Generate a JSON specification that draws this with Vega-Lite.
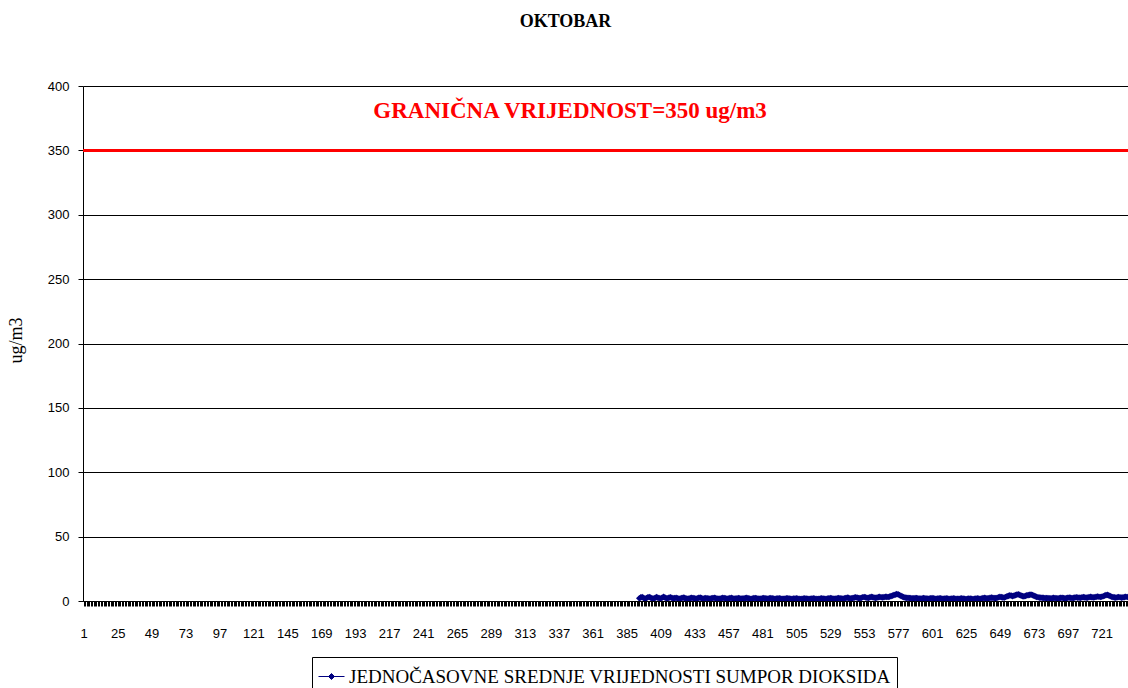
{
"$schema": "https://vega.github.io/schema/vega-lite/v6.json",
"width": 1045, "height": 515,
"autosize": {"type": "none"},
"padding": {"left": 83, "top": 86, "right": 0, "bottom": 87},
"background": "white",
"title": {"text": "OKTOBAR", "font": "Liberation Serif", "fontSize": 18, "fontWeight": "bold", "color": "black", "anchor": "middle", "frame": "group", "offset": 35, "dx": -40, "baseline": "alphabetic"},
"config": {"view": {"stroke": null}},
"layer": [
{"data": {"values": [
{"h":394,"v":2.1},{"h":395,"v":2.8},{"h":396,"v":3.0},{"h":397,"v":2.4},{"h":398,"v":1.9},{"h":399,"v":2.2},{"h":400,"v":2.9},{"h":401,"v":3.1},{"h":402,"v":2.6},{"h":403,"v":2.0},{"h":404,"v":1.8},{"h":405,"v":2.3},{"h":406,"v":3.0},{"h":407,"v":2.7},{"h":408,"v":2.2},{"h":409,"v":1.9},{"h":410,"v":2.5},{"h":411,"v":3.2},{"h":412,"v":2.8},{"h":413,"v":2.1},{"h":414,"v":2.0},{"h":415,"v":2.6},{"h":416,"v":2.9},{"h":417,"v":2.4},
{"h":418,"v":2.0},{"h":419,"v":2.2},{"h":420,"v":2.5},{"h":421,"v":2.1},{"h":422,"v":1.8},{"h":423,"v":1.9},{"h":424,"v":2.3},{"h":425,"v":2.6},{"h":426,"v":2.4},{"h":427,"v":2.0},{"h":428,"v":1.7},{"h":429,"v":1.9},{"h":430,"v":2.2},{"h":431,"v":2.5},{"h":432,"v":2.3},{"h":433,"v":2.0},{"h":434,"v":1.8},{"h":435,"v":2.1},{"h":436,"v":2.4},{"h":437,"v":2.6},{"h":438,"v":2.2},{"h":439,"v":1.9},{"h":440,"v":2.0},{"h":441,"v":2.3},
{"h":442,"v":2.1},{"h":443,"v":1.9},{"h":444,"v":1.8},{"h":445,"v":2.0},{"h":446,"v":2.3},{"h":447,"v":2.5},{"h":448,"v":2.2},{"h":449,"v":1.9},{"h":450,"v":1.7},{"h":451,"v":1.8},{"h":452,"v":2.1},{"h":453,"v":2.4},{"h":454,"v":2.3},{"h":455,"v":2.0},{"h":456,"v":1.8},{"h":457,"v":1.9},{"h":458,"v":2.2},{"h":459,"v":2.4},{"h":460,"v":2.1},{"h":461,"v":1.9},{"h":462,"v":1.8},{"h":463,"v":2.0},{"h":464,"v":2.2},{"h":465,"v":2.1},
{"h":466,"v":1.9},{"h":467,"v":1.8},{"h":468,"v":2.0},{"h":469,"v":2.2},{"h":470,"v":2.4},{"h":471,"v":2.1},{"h":472,"v":1.8},{"h":473,"v":1.7},{"h":474,"v":1.9},{"h":475,"v":2.2},{"h":476,"v":2.3},{"h":477,"v":2.0},{"h":478,"v":1.8},{"h":479,"v":1.7},{"h":480,"v":1.9},{"h":481,"v":2.1},{"h":482,"v":2.3},{"h":483,"v":2.0},{"h":484,"v":1.8},{"h":485,"v":1.9},{"h":486,"v":2.1},{"h":487,"v":2.2},{"h":488,"v":2.0},{"h":489,"v":1.8},
{"h":490,"v":1.7},{"h":491,"v":1.8},{"h":492,"v":2.0},{"h":493,"v":2.1},{"h":494,"v":1.9},{"h":495,"v":1.7},{"h":496,"v":1.6},{"h":497,"v":1.8},{"h":498,"v":2.0},{"h":499,"v":2.1},{"h":500,"v":1.9},{"h":501,"v":1.7},{"h":502,"v":1.6},{"h":503,"v":1.8},{"h":504,"v":1.9},{"h":505,"v":2.0},{"h":506,"v":1.8},{"h":507,"v":1.6},{"h":508,"v":1.5},{"h":509,"v":1.7},{"h":510,"v":1.9},{"h":511,"v":2.0},{"h":512,"v":1.8},{"h":513,"v":1.7},
{"h":514,"v":1.6},{"h":515,"v":1.7},{"h":516,"v":1.9},{"h":517,"v":2.0},{"h":518,"v":1.8},{"h":519,"v":1.6},{"h":520,"v":1.5},{"h":521,"v":1.7},{"h":522,"v":1.9},{"h":523,"v":2.1},{"h":524,"v":1.9},{"h":525,"v":1.7},{"h":526,"v":1.6},{"h":527,"v":1.8},{"h":528,"v":2.0},{"h":529,"v":2.2},{"h":530,"v":2.0},{"h":531,"v":1.8},{"h":532,"v":1.7},{"h":533,"v":1.9},{"h":534,"v":2.1},{"h":535,"v":2.3},{"h":536,"v":2.1},{"h":537,"v":1.9},
{"h":538,"v":1.8},{"h":539,"v":2.0},{"h":540,"v":2.3},{"h":541,"v":2.6},{"h":542,"v":2.4},{"h":543,"v":2.1},{"h":544,"v":2.0},{"h":545,"v":2.3},{"h":546,"v":2.7},{"h":547,"v":2.9},{"h":548,"v":2.6},{"h":549,"v":2.3},{"h":550,"v":2.2},{"h":551,"v":2.5},{"h":552,"v":2.9},{"h":553,"v":3.1},{"h":554,"v":2.8},{"h":555,"v":2.5},{"h":556,"v":2.4},{"h":557,"v":2.8},{"h":558,"v":3.2},{"h":559,"v":3.0},{"h":560,"v":2.7},{"h":561,"v":2.5},
{"h":562,"v":2.6},{"h":563,"v":3.0},{"h":564,"v":3.2},{"h":565,"v":2.9},{"h":566,"v":2.8},{"h":567,"v":3.0},{"h":568,"v":3.3},{"h":569,"v":3.2},{"h":570,"v":3.1},{"h":571,"v":3.4},{"h":572,"v":3.8},{"h":573,"v":4.2},{"h":574,"v":4.6},{"h":575,"v":5.0},{"h":576,"v":5.3},{"h":577,"v":5.1},{"h":578,"v":4.6},{"h":579,"v":4.0},{"h":580,"v":3.4},{"h":581,"v":3.0},{"h":582,"v":2.7},{"h":583,"v":2.5},{"h":584,"v":2.4},{"h":585,"v":2.3},
{"h":586,"v":2.2},{"h":587,"v":2.1},{"h":588,"v":2.0},{"h":589,"v":2.2},{"h":590,"v":2.3},{"h":591,"v":2.1},{"h":592,"v":1.9},{"h":593,"v":1.8},{"h":594,"v":2.0},{"h":595,"v":2.2},{"h":596,"v":2.1},{"h":597,"v":1.9},{"h":598,"v":1.8},{"h":599,"v":1.9},{"h":600,"v":2.1},{"h":601,"v":2.2},{"h":602,"v":2.0},{"h":603,"v":1.8},{"h":604,"v":1.7},{"h":605,"v":1.9},{"h":606,"v":2.1},{"h":607,"v":2.0},{"h":608,"v":1.8},{"h":609,"v":1.7},
{"h":610,"v":1.8},{"h":611,"v":2.0},{"h":612,"v":1.9},{"h":613,"v":1.7},{"h":614,"v":1.6},{"h":615,"v":1.8},{"h":616,"v":2.0},{"h":617,"v":1.9},{"h":618,"v":1.7},{"h":619,"v":1.6},{"h":620,"v":1.7},{"h":621,"v":1.9},{"h":622,"v":2.0},{"h":623,"v":1.8},{"h":624,"v":1.6},{"h":625,"v":1.5},{"h":626,"v":1.7},{"h":627,"v":1.9},{"h":628,"v":1.8},{"h":629,"v":1.6},{"h":630,"v":1.5},{"h":631,"v":1.7},{"h":632,"v":1.9},{"h":633,"v":2.0},
{"h":634,"v":1.8},{"h":635,"v":1.7},{"h":636,"v":1.9},{"h":637,"v":2.2},{"h":638,"v":2.4},{"h":639,"v":2.2},{"h":640,"v":2.0},{"h":641,"v":2.1},{"h":642,"v":2.4},{"h":643,"v":2.7},{"h":644,"v":2.5},{"h":645,"v":2.3},{"h":646,"v":2.2},{"h":647,"v":2.5},{"h":648,"v":2.9},{"h":649,"v":3.2},{"h":650,"v":3.0},{"h":651,"v":2.8},{"h":652,"v":2.7},{"h":653,"v":3.1},{"h":654,"v":3.6},{"h":655,"v":4.0},{"h":656,"v":4.3},{"h":657,"v":4.1},
{"h":658,"v":3.8},{"h":659,"v":4.2},{"h":660,"v":4.6},{"h":661,"v":4.9},{"h":662,"v":5.1},{"h":663,"v":4.7},{"h":664,"v":4.2},{"h":665,"v":3.8},{"h":666,"v":3.6},{"h":667,"v":3.9},{"h":668,"v":4.3},{"h":669,"v":4.6},{"h":670,"v":4.8},{"h":671,"v":5.0},{"h":672,"v":4.6},{"h":673,"v":4.1},{"h":674,"v":3.6},{"h":675,"v":3.2},{"h":676,"v":2.9},{"h":677,"v":2.7},{"h":678,"v":2.6},{"h":679,"v":2.5},{"h":680,"v":2.4},{"h":681,"v":2.3},
{"h":682,"v":2.2},{"h":683,"v":2.3},{"h":684,"v":2.1},{"h":685,"v":2.0},{"h":686,"v":2.2},{"h":687,"v":2.4},{"h":688,"v":2.3},{"h":689,"v":2.1},{"h":690,"v":2.0},{"h":691,"v":2.2},{"h":692,"v":2.4},{"h":693,"v":2.5},{"h":694,"v":2.3},{"h":695,"v":2.1},{"h":696,"v":2.2},{"h":697,"v":2.5},{"h":698,"v":2.7},{"h":699,"v":2.5},{"h":700,"v":2.3},{"h":701,"v":2.4},{"h":702,"v":2.7},{"h":703,"v":2.9},{"h":704,"v":2.7},{"h":705,"v":2.6},
{"h":706,"v":2.5},{"h":707,"v":2.8},{"h":708,"v":3.0},{"h":709,"v":2.8},{"h":710,"v":2.6},{"h":711,"v":2.7},{"h":712,"v":3.0},{"h":713,"v":3.2},{"h":714,"v":3.0},{"h":715,"v":2.8},{"h":716,"v":2.9},{"h":717,"v":3.2},{"h":718,"v":3.5},{"h":719,"v":3.3},{"h":720,"v":3.1},{"h":721,"v":3.3},{"h":722,"v":3.7},{"h":723,"v":4.1},{"h":724,"v":4.5},{"h":725,"v":4.7},{"h":726,"v":4.3},{"h":727,"v":3.8},{"h":728,"v":3.3},{"h":729,"v":3.0},
{"h":730,"v":2.8},{"h":731,"v":2.7},{"h":732,"v":2.9},{"h":733,"v":3.1},{"h":734,"v":2.9},{"h":735,"v":2.7},{"h":736,"v":2.8},{"h":737,"v":3.0},{"h":738,"v":3.3},{"h":739,"v":3.1},{"h":740,"v":2.9},{"h":741,"v":3.0},{"h":742,"v":3.3},{"h":743,"v":3.5},{"h":744,"v":3.4}
]},
"mark": {"type": "line", "strokeWidth": 2, "clip": true, "point": {"shape": "diamond", "size": 45, "filled": true, "color": "#000080"}},
"encoding": {
"x": {"field": "h", "type": "quantitative", "scale": {"domain": [0.5, 739.6], "nice": false, "zero": false},
"axis": {"title": null, "tickCount": 739, "format": "d", "labelExpr": "(datum.value - 1) % 24 == 0 ? datum.label : ''", "labelFlush": false, "labelOverlap": false, "labelAngle": 0, "labelDx": 3, "grid": false, "tickColor": "black", "tickSize": 5, "domainColor": "black", "labelPadding": 21, "labelFont": "Liberation Sans", "labelFontSize": 13, "labelColor": "black"}},
"y": {"field": "v", "type": "quantitative", "scale": {"domain": [0, 400], "nice": false},
"axis": {"title": "ug/m3", "titleFont": "Liberation Serif", "titleFontSize": 18, "titleFontWeight": "normal", "titleColor": "black", "titleX": -58, "titleY": 254, "values": [0, 50, 100, 150, 200, 250, 300, 350, 400], "grid": true, "gridColor": "black", "gridWidth": 1, "gridOpacity": 1, "tickColor": "black", "tickSize": 5, "domainColor": "black", "labelPadding": 9, "labelFont": "Liberation Sans", "labelFontSize": 13, "labelColor": "black"}},
"color": {"datum": "JEDNOČASOVNE SREDNJE VRIJEDNOSTI SUMPOR DIOKSIDA", "type": "nominal", "scale": {"range": ["#000080"]},
"legend": {"orient": "none", "legendX": 229, "legendY": 571, "direction": "horizontal", "title": null, "strokeColor": "black", "padding": 6, "labelFont": "Liberation Serif", "labelFontSize": 19, "labelLimit": 0, "labelColor": "black", "labelOffset": 4, "symbolType": "M-1,0H1M0,-0.23L0.23,0L0,0.23L-0.23,0Z", "symbolSize": 676, "symbolStrokeColor": "#000080", "symbolFillColor": "#000080", "symbolStrokeWidth": 1}}
}},
{"data": {"values": [{"limit": 350}]},
"mark": {"type": "rule", "color": "#FF0000", "strokeWidth": 3},
"encoding": {"y": {"field": "limit", "type": "quantitative"}}},
{"data": {"values": [{"label": "GRANIČNA VRIJEDNOST=350 ug/m3"}]},
"mark": {"type": "text", "color": "#FF0000", "font": "Liberation Serif", "fontSize": 23, "fontWeight": "bold", "baseline": "alphabetic", "align": "center"},
"encoding": {"text": {"field": "label"}, "x": {"datum": 345}, "y": {"datum": 375}}}
]
}
